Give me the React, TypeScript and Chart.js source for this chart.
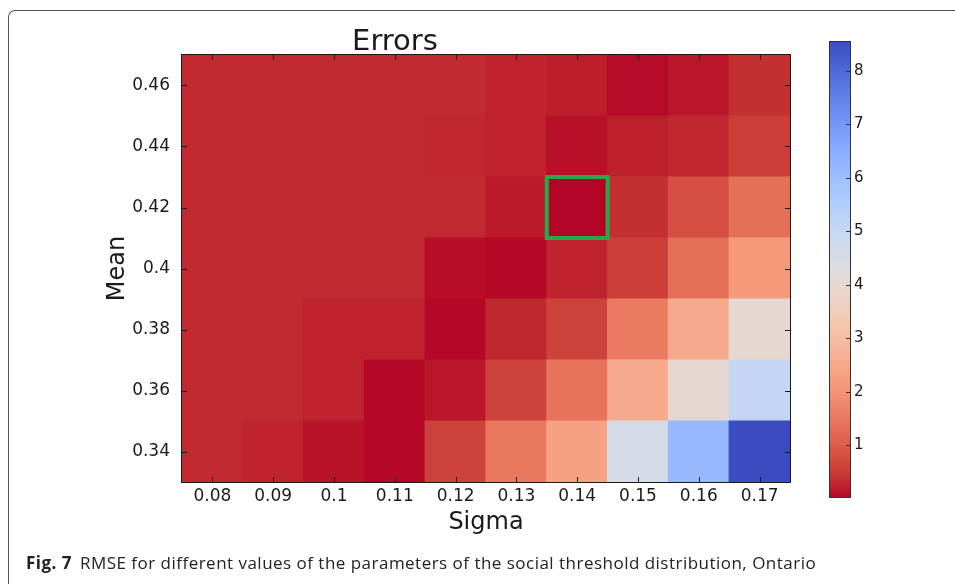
import { useEffect, useRef } from "react";
import { Chart, registerables } from "chart.js";

Chart.register(...registerables);

// Sigma values along the x axis (one column each)
const sigmaLabels = ["0.08", "0.09", "0.1", "0.11", "0.12", "0.13", "0.14", "0.15", "0.16", "0.17"];
// Mean values along the y axis (one row each)
const meanTicks = [0.34, 0.36, 0.38, 0.4, 0.42, 0.44, 0.46];
const meanLabels = ["0.34", "0.36", "0.38", "0.4", "0.42", "0.44", "0.46"];

// RMSE per mean row; columns follow sigmaLabels
const rmse034 = [0.3, 0.25, 0.12, 0.04, 0.6, 1.5, 2.3, 4.55, 6.15, 8.56];
const rmse036 = [0.3, 0.3, 0.25, 0.04, 0.15, 0.6, 1.4, 2.5, 4.0, 5.0];
const rmse038 = [0.3, 0.3, 0.25, 0.25, 0.04, 0.28, 0.6, 1.55, 2.5, 4.0];
const rmse040 = [0.3, 0.3, 0.3, 0.3, 0.08, 0.05, 0.25, 0.55, 1.35, 2.15];
const rmse042 = [0.3, 0.3, 0.3, 0.3, 0.3, 0.17, 0.01, 0.38, 0.8, 1.35];
const rmse044 = [0.3, 0.3, 0.3, 0.3, 0.27, 0.23, 0.1, 0.22, 0.27, 0.55];
const rmse046 = [0.3, 0.3, 0.3, 0.3, 0.3, 0.25, 0.2, 0.06, 0.15, 0.38];

const colorbarTicks = [1, 2, 3, 4, 5, 6, 7, 8];

// Parameter pair with the lowest error, outlined in green
const bestSigma = "0.14";
const bestMean = 0.42;

const rows = [rmse034, rmse036, rmse038, rmse040, rmse042, rmse044, rmse046];
const allValues = rows.flat();
const vmin = Math.min(...allValues);
const vmax = Math.max(...allValues);
const halfStep = (meanTicks[1] - meanTicks[0]) / 2;

// coolwarm diverging colormap (blue -> grey -> red), sampled at 33 points
const COOLWARM: number[][] = [
  [59, 76, 192], [68, 90, 204], [77, 104, 215], [87, 117, 225], [98, 130, 234],
  [108, 142, 241], [119, 154, 247], [130, 165, 251], [141, 176, 254], [152, 185, 255],
  [163, 194, 255], [174, 201, 253], [184, 208, 249], [194, 213, 244], [204, 217, 238],
  [213, 219, 230], [221, 221, 221], [229, 216, 209], [236, 211, 197], [241, 204, 185],
  [245, 196, 173], [247, 187, 160], [247, 177, 148], [247, 166, 135], [244, 154, 123],
  [241, 141, 111], [236, 127, 99], [229, 112, 88], [222, 96, 77], [213, 80, 66],
  [203, 62, 56], [192, 40, 47], [180, 4, 38],
];

const rgb = (c: number[]) => `rgb(${Math.round(c[0])},${Math.round(c[1])},${Math.round(c[2])})`;

// reversed coolwarm: low error -> red, high error -> blue
function errorColor(v: number): string {
  let t = (v - vmin) / (vmax - vmin);
  t = Math.max(0, Math.min(1, t));
  const s = (1 - t) * (COOLWARM.length - 1);
  const i = Math.min(Math.floor(s), COOLWARM.length - 2);
  const f = s - i;
  const a = COOLWARM[i];
  const b = COOLWARM[i + 1];
  return rgb([a[0] + (b[0] - a[0]) * f, a[1] + (b[1] - a[1]) * f, a[2] + (b[2] - a[2]) * f]);
}

const FONT = "'DejaVu Sans', sans-serif";
const INK = "#1a1a1a";
const BOX_GREEN = "#24aa4b";

// Inward ticks on all four sides, the axes frame and the best-cell outline
const axesFramePlugin = {
  id: "axesFrame",
  afterDatasetsDraw(chart: any) {
    const { ctx, chartArea: a, scales } = chart;
    const xs = scales.x;
    const ys = scales.y;
    const L = 5;
    ctx.save();
    ctx.strokeStyle = INK;
    ctx.lineWidth = 1;
    ctx.beginPath();
    xs.ticks.forEach((_: any, i: number) => {
      const px = Math.round(xs.getPixelForTick(i)) + 0.5;
      ctx.moveTo(px, a.bottom);
      ctx.lineTo(px, a.bottom - L);
      ctx.moveTo(px, a.top);
      ctx.lineTo(px, a.top + L);
    });
    ys.ticks.forEach((_: any, i: number) => {
      const py = Math.round(ys.getPixelForTick(i)) + 0.5;
      ctx.moveTo(a.left, py);
      ctx.lineTo(a.left + L, py);
      ctx.moveTo(a.right, py);
      ctx.lineTo(a.right - L, py);
    });
    ctx.stroke();
    ctx.strokeRect(a.left - 0.5, a.top - 0.5, a.right - a.left + 1, a.bottom - a.top + 1);

    const xi = sigmaLabels.indexOf(bestSigma);
    const half = (xs.getPixelForValue(1) - xs.getPixelForValue(0)) / 2;
    const cx = xs.getPixelForValue(xi);
    const top = ys.getPixelForValue(bestMean + halfStep);
    const bottom = ys.getPixelForValue(bestMean - halfStep);
    ctx.strokeStyle = BOX_GREEN;
    ctx.lineWidth = 4;
    ctx.strokeRect(cx - half, top, half * 2, bottom - top);
    ctx.restore();
  },
};

// Gradient bar with inward ticks and labels on its right side
const colorbarPlugin = {
  id: "colorbar",
  afterDraw(chart: any) {
    const { ctx, chartArea: a, scales } = chart;
    const ys = scales.y;
    const top = ys.getPixelForValue(vmax);
    const bottom = ys.getPixelForValue(vmin);
    const n = COOLWARM.length;
    const g = ctx.createLinearGradient(0, bottom, 0, top);
    for (let k = 0; k < n; k++) g.addColorStop(k / (n - 1), rgb(COOLWARM[n - 1 - k]));
    ctx.save();
    ctx.fillStyle = g;
    ctx.fillRect(a.left, top, a.right - a.left, bottom - top);
    ctx.strokeStyle = "#333";
    ctx.lineWidth = 1;
    ctx.beginPath();
    colorbarTicks.forEach((v) => {
      const py = Math.round(ys.getPixelForValue(v)) + 0.5;
      ctx.moveTo(a.right, py);
      ctx.lineTo(a.right - 5, py);
    });
    ctx.stroke();
    ctx.strokeRect(a.left + 0.5, top + 0.5, a.right - a.left - 1, bottom - top - 1);
    ctx.fillStyle = INK;
    ctx.font = `15px ${FONT}`;
    ctx.textAlign = "left";
    ctx.textBaseline = "middle";
    colorbarTicks.forEach((v) => {
      ctx.fillText(String(v), a.right + 3, ys.getPixelForValue(v));
    });
    ctx.restore();
  },
};

export default function App() {
  const mainRef = useRef<HTMLCanvasElement>(null);
  const barRef = useRef<HTMLCanvasElement>(null);

  useEffect(() => {
    if (!mainRef.current || !barRef.current) return;

    const cellSets = rows.map((vals, r) => ({
      label: meanLabels[r],
      data: vals.map(() => [meanTicks[r] - halfStep, meanTicks[r] + halfStep]),
      backgroundColor: vals.map(errorColor),
      borderWidth: 0,
      barPercentage: 1,
      categoryPercentage: 1,
      grouped: false,
      inflateAmount: 0.6,
    }));

    const main = new Chart(mainRef.current, {
      type: "bar",
      data: { labels: sigmaLabels, datasets: cellSets as any },
      plugins: [axesFramePlugin],
      options: {
        responsive: false,
        devicePixelRatio: 1,
        animation: false,
        layout: { padding: { left: 0, right: 165, top: 0, bottom: 42 } },
        plugins: {
          legend: { display: false },
          tooltip: { enabled: false },
          title: {
            display: true,
            text: "Errors",
            color: INK,
            font: { family: FONT, size: 29, weight: "normal", lineHeight: 26 / 29 },
            padding: { top: 29, bottom: 0 },
          },
        },
        scales: {
          x: {
            type: "category",
            offset: true,
            grid: { display: false },
            border: { display: false },
            ticks: { color: INK, font: { family: FONT, size: 17 }, padding: -4, maxRotation: 0, autoSkip: false },
            title: {
              display: true,
              text: "Sigma",
              color: INK,
              font: { family: FONT, size: 24 },
              padding: { top: 0, bottom: 4.6 },
            },
            afterFit: (s: any) => {
              s.height = 60;
            },
          },
          y: {
            type: "linear",
            min: meanTicks[0] - halfStep,
            max: meanTicks[meanTicks.length - 1] + halfStep,
            grid: { display: false },
            border: { display: false },
            afterBuildTicks: (s: any) => {
              s.ticks = meanTicks.map((v) => ({ value: v }));
            },
            ticks: {
              color: INK,
              font: { family: FONT, size: 17 },
              padding: 4,
              callback: (_v: any, i: number) => meanLabels[i],
            },
            title: {
              display: true,
              text: "Mean",
              color: INK,
              font: { family: FONT, size: 24 },
              padding: { top: 103.6, bottom: 0 },
            },
            afterFit: (s: any) => {
              s.width = 182;
            },
          },
        },
      } as any,
    });

    const bar = new Chart(barRef.current, {
      type: "scatter",
      data: { datasets: [{ data: [] }] },
      plugins: [colorbarPlugin],
      options: {
        responsive: false,
        devicePixelRatio: 1,
        animation: false,
        layout: { padding: { left: 1, right: 37, top: 41, bottom: 86 } },
        plugins: { legend: { display: false }, tooltip: { enabled: false } },
        scales: {
          x: { display: false, min: 0, max: 1 },
          y: { display: false, min: vmin, max: vmax },
        },
      } as any,
    });

    return () => {
      main.destroy();
      bar.destroy();
    };
  }, []);

  return (
    <div style={{ position: "absolute", left: 0, top: 0, width: 955, height: 584, background: "#fff", overflow: "hidden" }}>
      <div
        style={{
          position: "absolute",
          left: 8,
          top: 10,
          width: 960,
          height: 600,
          borderTop: "1px solid #555",
          borderLeft: "1px solid #555",
          borderTopLeftRadius: 7,
        }}
      />
      <canvas ref={mainRef} width={955} height={584} style={{ position: "absolute", left: 0, top: 0 }} />
      <canvas ref={barRef} width={60} height={584} style={{ position: "absolute", left: 828, top: 0 }} />
      <div
        style={{
          position: "absolute",
          left: 26,
          top: 553,
          fontFamily: "'Open Sans', sans-serif",
          fontSize: 17,
          letterSpacing: "0.48px",
          lineHeight: "20px",
          color: "#222",
          whiteSpace: "nowrap",
        }}
      >
        <b>Fig. 7</b>
        <span style={{ marginLeft: 8 }}>RMSE for different values of the parameters of the social threshold distribution, Ontario</span>
      </div>
    </div>
  );
}
